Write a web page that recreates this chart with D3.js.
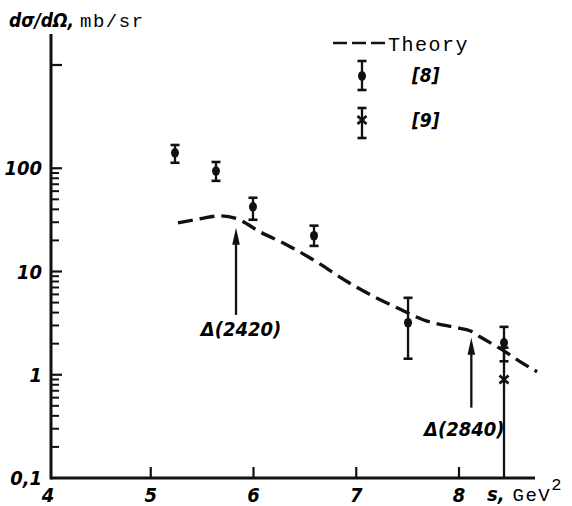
<!DOCTYPE html>
<html>
<head>
<meta charset="utf-8">
<script src="https://cdn.jsdelivr.net/npm/d3@7"></script>
<style>
  body { margin: 0; background: #fff; }
  svg { display: block; }
  .lab { font-family: "DejaVu Sans Condensed", "DejaVu Sans", sans-serif; font-weight: bold; font-style: italic; }
  .mono { font-family: "Liberation Mono", "DejaVu Sans Mono", monospace; letter-spacing: 1.5px; }
</style>
</head>
<body>
<svg id="chart" width="572" height="506"></svg>
<script>
// theory curve, s in GeV^2 vs dsigma/dOmega in mb/sr
var theoryS = [5.265, 5.48, 5.674, 5.84, 6.063, 6.326, 6.58, 6.91, 7.066, 7.397, 7.65, 7.98, 8.107, 8.204, 8.37, 8.467, 8.594, 8.76];
var theoryV = [29.6, 32.4, 34.6, 32.4, 24.2, 18.1, 13.0, 8.0, 6.5, 4.45, 3.41, 2.85, 2.67, 2.33, 1.87, 1.63, 1.34, 1.07];

// data of ref [8]: value with lower / upper error ends
var ref8S = [5.236, 5.635, 5.995, 6.589, 7.504, 8.438];
var ref8V = [141, 94, 42.3, 22.2, 3.19, 2.04];
var ref8Lo = [113, 75.5, 31.7, 17.7, 1.43, 1.35];
var ref8Hi = [168, 115, 51.8, 27.8, 5.56, 2.91];

// data of ref [9]
var ref9S = [8.438];
var ref9V = [0.9];
var ref9Lo = [0.1];
var ref9Hi = [1.83];

// resonance arrows
var arrowLabels = ["\u0394(2420)", "\u0394(2840)"];
var arrowS = [5.83, 8.12];
var arrowFrom = [3.8, 0.48];
var arrowTo = [26.5, 2.28];

var xTicks = [4, 5, 6, 7, 8];
var yMajor = [0.1, 1, 10, 100, 1000];
var yLabels = ["0,1", "1", "10", "100"];

var svg = d3.select("#chart");
var x = d3.scaleLinear().domain([4, 8]).range([48, 459]);
var y = d3.scaleLog().domain([0.1, 1000]).range([478, 65]);
var axisX = 51;

var ink = "#111";

// axes lines
svg.append("line").attr("x1", axisX).attr("x2", axisX)
  .attr("y1", y(0.1) + 1.5).attr("y2", y(2000))
  .attr("stroke", ink).attr("stroke-width", 3);
svg.append("line").attr("x1", axisX).attr("x2", x(8.74))
  .attr("y1", y(0.1)).attr("y2", y(0.1))
  .attr("stroke", ink).attr("stroke-width", 3);

// y ticks (major + minor)
var minor = [];
[0.1, 1, 10].forEach(function(d) {
  for (var k = 2; k <= 9; k++) minor.push(d * k);
});
svg.selectAll(".ymaj").data(yMajor.slice(1)).join("line")
  .attr("x1", axisX).attr("x2", axisX + 11)
  .attr("y1", d => y(d)).attr("y2", d => y(d))
  .attr("stroke", ink).attr("stroke-width", 2.2);
svg.selectAll(".ymin").data(minor).join("line")
  .attr("x1", axisX).attr("x2", axisX + 8)
  .attr("y1", d => y(d)).attr("y2", d => y(d))
  .attr("stroke", ink).attr("stroke-width", 2);

svg.selectAll(".ylab").data(yLabels).join("text")
  .attr("class", "lab")
  .attr("x", 42).attr("y", (d, i) => y(yMajor[i]) + 7)
  .attr("text-anchor", "end").attr("font-size", 20)
  .text(d => d);

// x ticks
svg.selectAll(".xt").data(xTicks.slice(1)).join("line")
  .attr("x1", d => x(d)).attr("x2", d => x(d))
  .attr("y1", y(0.1)).attr("y2", y(0.1) - 11)
  .attr("stroke", ink).attr("stroke-width", 2.2);
svg.selectAll(".xlab").data(xTicks).join("text")
  .attr("class", "lab")
  .attr("x", d => x(d)).attr("y", 502)
  .attr("text-anchor", "middle").attr("font-size", 20)
  .text(d => d);

// axis titles
var yt = svg.append("text").attr("x", 9).attr("y", 27);
yt.append("tspan").attr("class", "lab").attr("font-size", 19).text("d\u03c3/d\u03a9,");
yt.append("tspan").attr("class", "mono").attr("font-size", 19).attr("dx", 6).text("mb/sr");

var xt = svg.append("text").attr("x", 487).attr("y", 501);
xt.append("tspan").attr("class", "lab").attr("font-size", 20).text("s,");
xt.append("tspan").attr("class", "mono").attr("font-size", 19).attr("dx", 8).text("GeV");
xt.append("tspan").attr("class", "mono").attr("font-size", 17).attr("dy", -11).text("2");

// theory curve
var line = d3.line().curve(d3.curveMonotoneX)
  .x(d => x(d[0])).y(d => y(d[1]));
svg.append("path")
  .datum(theoryS.map((s, i) => [s, theoryV[i]]))
  .attr("d", line).attr("fill", "none")
  .attr("stroke", ink).attr("stroke-width", 3.4)
  .attr("stroke-dasharray", "15,7");

// error bars helper
function errBar(g, cx, yTop, yBot, capTop, capBot) {
  g.append("line").attr("x1", cx).attr("x2", cx).attr("y1", yTop).attr("y2", yBot)
    .attr("stroke", ink).attr("stroke-width", 2.3);
  if (capTop) g.append("line").attr("x1", cx - 4.5).attr("x2", cx + 4.5).attr("y1", yTop).attr("y2", yTop)
    .attr("stroke", ink).attr("stroke-width", 2.6);
  if (capBot) g.append("line").attr("x1", cx - 4.5).attr("x2", cx + 4.5).attr("y1", yBot).attr("y2", yBot)
    .attr("stroke", ink).attr("stroke-width", 2.6);
}
function crossMark(g, cx, cy) {
  g.append("path")
    .attr("d", "M" + (cx - 4.5) + "," + (cy - 4) + "L" + (cx + 4.5) + "," + (cy + 4) +
      "M" + (cx + 4.5) + "," + (cy - 4) + "L" + (cx - 4.5) + "," + (cy + 4))
    .attr("stroke", ink).attr("stroke-width", 2.8);
}

var pts = svg.append("g");
ref8S.forEach(function(s, i) {
  errBar(pts, x(s), y(ref8Hi[i]), y(ref8Lo[i]), true, true);
  pts.append("ellipse").attr("cx", x(s)).attr("cy", y(ref8V[i]))
    .attr("rx", 4).attr("ry", 4.8).attr("fill", ink);
});
ref9S.forEach(function(s, i) {
  errBar(pts, x(s), y(ref9Hi[i]), y(ref9Lo[i]), true, false);
  crossMark(pts, x(s), y(ref9V[i]));
});

// arrows
arrowS.forEach(function(s, i) {
  var ax = x(s), top = y(arrowTo[i]), bot = y(arrowFrom[i]);
  svg.append("line").attr("x1", ax).attr("x2", ax).attr("y1", top + 10).attr("y2", bot)
    .attr("stroke", ink).attr("stroke-width", 2.3);
  svg.append("path")
    .attr("d", "M" + ax + "," + top + "L" + (ax - 3.8) + "," + (top + 17) + "L" + (ax + 3.8) + "," + (top + 17) + "Z")
    .attr("fill", ink);
  svg.append("text").attr("class", "lab")
    .attr("x", ax + (i === 0 ? 5 : -7)).attr("y", bot + (i === 0 ? 21 : 28))
    .attr("text-anchor", "middle").attr("font-size", 20)
    .text(arrowLabels[i]);
});

// legend
var lg = svg.append("g");
lg.append("line").attr("x1", 333).attr("x2", 387).attr("y1", 43).attr("y2", 43)
  .attr("stroke", ink).attr("stroke-width", 2.6).attr("stroke-dasharray", "14,5");
lg.append("text").attr("class", "mono").attr("x", 388).attr("y", 51)
  .attr("font-size", 20).text("Theory");
errBar(lg, 362, 61, 90, true, true);
lg.append("ellipse").attr("cx", 362).attr("cy", 76).attr("rx", 4).attr("ry", 4.8).attr("fill", ink);
lg.append("text").attr("class", "lab").attr("x", 412).attr("y", 82).attr("font-size", 19).text("[8]");
errBar(lg, 362, 108, 138, true, true);
crossMark(lg, 362, 120);
lg.append("text").attr("class", "lab").attr("x", 412).attr("y", 127).attr("font-size", 19).text("[9]");
</script>
</body>
</html>
